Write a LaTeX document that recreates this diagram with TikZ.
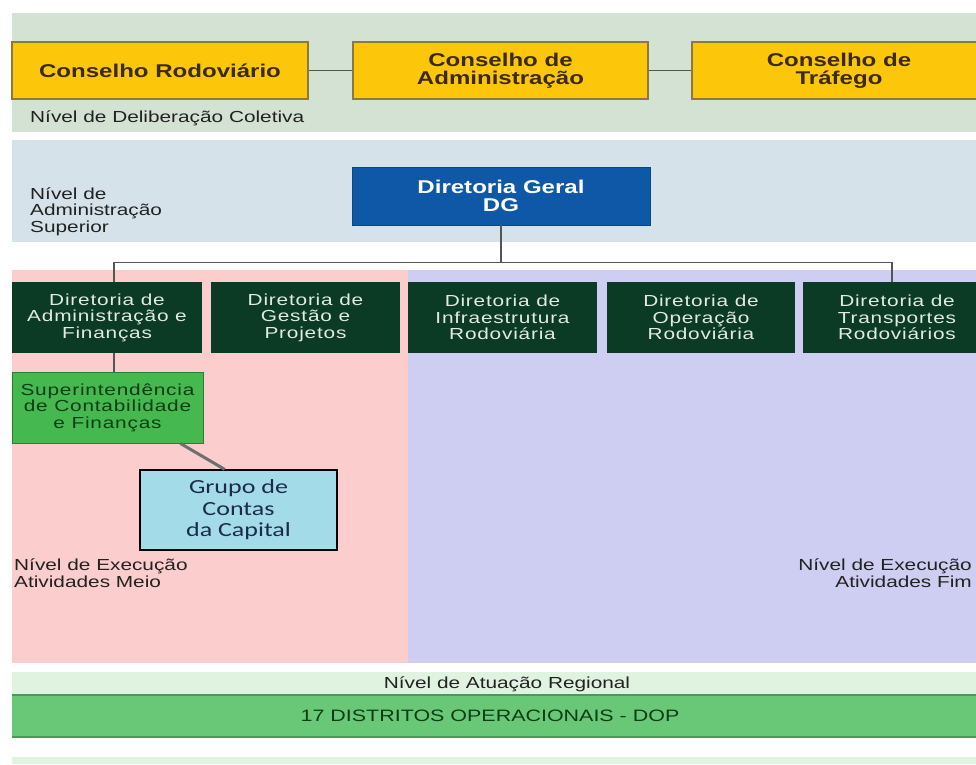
\documentclass[tikz,border=0pt]{standalone}
\usepackage{fontspec}
\setmainfont[FakeStretch=1.3]{Liberation Sans}
\newfontfamily\spcfont[FakeStretch=1.3,LetterSpace=5]{Liberation Sans}
\newfontfamily\calfont[FakeStretch=1.3]{Carlito}
\usetikzlibrary{calc}
\definecolor{bandA}{HTML}{D4E2D4}
\definecolor{bandB}{HTML}{D6E2E9}
\definecolor{pinkR}{HTML}{FCCDCD}
\definecolor{lavR}{HTML}{CECDF2}
\definecolor{lgreen}{HTML}{E0F3E0}
\definecolor{gbar}{HTML}{68C878}
\definecolor{gbarB}{HTML}{4C9A5A}
\definecolor{yfill}{HTML}{FCC70A}
\definecolor{ybord}{HTML}{8D7A3A}
\definecolor{ytext}{HTML}{3B2A0E}
\definecolor{dgblue}{HTML}{0F57A7}
\definecolor{dgbord}{HTML}{0B4488}
\definecolor{dkgreen}{HTML}{0B3B24}
\definecolor{dtext}{HTML}{E2EAE2}
\definecolor{sufill}{HTML}{45B84F}
\definecolor{subord}{HTML}{2D7A36}
\definecolor{sutext}{HTML}{0D3D14}
\definecolor{grfill}{HTML}{A4DBE9}
\definecolor{grtext}{HTML}{1B2B48}
\definecolor{lgray}{HTML}{555555}
\definecolor{labtext}{HTML}{222222}
\begin{document}
\begin{tikzpicture}[x=1pt,y=-1pt,
  ybox/.style={draw=ybord, fill=yfill, line width=1.2pt, minimum height=57pt, inner sep=0pt, align=center,
    font=\fontsize{18.5}{18}\selectfont\bfseries, text=ytext},
  dgbox/.style={draw=dgbord, fill=dgblue, line width=0.8pt, minimum height=58pt, minimum width=298pt, inner sep=0pt, align=center,
    font=\fontsize{18.5}{18}\selectfont\bfseries, text=white},
  dirbox/.style={fill=dkgreen, minimum height=71pt, inner sep=0pt, align=center,
    font=\spcfont\fontsize{16}{16.5}\selectfont, text=dtext},
  subox/.style={draw=subord, fill=sufill, line width=0.8pt, minimum height=71pt, minimum width=191pt, inner sep=0pt, align=center,
    font=\spcfont\fontsize{16}{16.5}\selectfont, text=sutext},
  grbox/.style={draw=black, fill=grfill, line width=1.3pt, minimum height=80pt, minimum width=197pt, inner sep=0pt, align=center,
    font=\calfont\fontsize{20}{21.5}\selectfont, text=grtext},
  lbl/.style={inner sep=0pt, font=\fontsize{16}{16.5}\selectfont, text=labtext},
  conn/.style={draw=lgray, line width=1.6pt},
  diag/.style={draw=lgray!85, line width=3pt}
]
\useasboundingbox (0,0) rectangle (976,764);
\clip (0,0) rectangle (976,764);
\fill[white] (0,0) rectangle (976,764);
% bands
\fill[bandA] (12,13) rectangle (976,132);
\fill[bandB] (12,140) rectangle (976,242);
\fill[pinkR] (12,270) rectangle (408,663);
\fill[lavR] (408,270) rectangle (976,663);
\fill[lgreen] (12,672) rectangle (976,695);
\fill[gbar] (12,695) rectangle (976,737);
\draw[gbarB, line width=1.2pt] (12,695) -- (976,695) (12,737) -- (976,737);
\fill[lgreen] (12,757) rectangle (976,764);

% councils
\node[ybox, minimum width=296pt] (cr) at (160,70.5) {Conselho Rodoviário};
\node[ybox, minimum width=295pt] (ca) at (500.5,70.5) {Conselho de\\Administração};
\node[ybox, minimum width=294pt] (ct) at (839,70.5) {Conselho de\\Tráfego};
\draw[conn] (cr) -- (ca);
\draw[conn] (ca) -- (ct);
\node[lbl, anchor=west] (l1) at (30,118) {Nível de Deliberação Coletiva};

% top management
\node[lbl, anchor=west, align=left] (l2) at (30,211.5) {Nível de\\Administração\\Superior};
\node[dgbox] (dg) at (501,196) {Diretoria Geral\\DG};

% directorates
\node[dirbox, minimum width=190pt] (d1) at (107,317.5) {Diretoria de\\Administração e\\Finanças};
\node[dirbox, minimum width=189pt] (d2) at (305.5,317.5) {Diretoria de\\Gestão e\\Projetos};
\node[dirbox, minimum width=189pt] (d3) at (502.5,317.5) {Diretoria de\\Infraestrutura\\Rodoviária};
\node[dirbox, minimum width=188pt] (d4) at (701,317.5) {Diretoria de\\Operação\\Rodoviária};
\node[dirbox, minimum width=188pt] (d5) at (897,317.5) {Diretoria de\\Transportes\\Rodoviários};

\draw[conn] (dg.south) -- ($(dg.south)+(0,37)$) coordinate (bus);
\draw[conn] ([xshift=7pt]d1.north) |- (bus) -| ([xshift=-5pt]d5.north);

% superintendence and group
\node[subox] (su) at (107.5,407.5) {Superintendência\\de Contabilidade\\e Finanças};
\draw[conn] ([xshift=7pt]d1.south) -- ([xshift=6.5pt]su.north);
\node[grbox] (gr) at (238.5,510) {Grupo de\\Contas\\da Capital};
\draw[diag] ($(su.south west)!0.88!(su.south east)$) -- ($(gr.north west)!0.43!(gr.north east)$);

% level labels
\node[lbl, anchor=west, align=left] (l3) at (14,573) {Nível de Execução\\Atividades Meio};
\node[lbl, anchor=east, align=right] (l4) at (972,573) {Nível de Execução\\Atividades Fim};
\node[lbl] (l5) at (507,684) {Nível de Atuação Regional};
\node[lbl, font=\fontsize{16.5}{17}\selectfont, text=sutext] (dop) at (490,716) {17 DISTRITOS OPERACIONAIS - DOP};
\end{tikzpicture}
\end{document}
